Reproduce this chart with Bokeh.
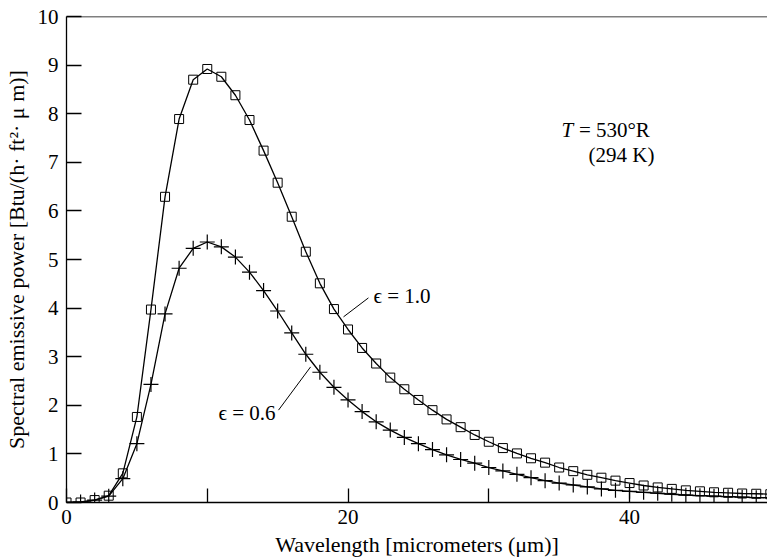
from bokeh.plotting import figure
from bokeh.models import Range1d, FixedTicker, Span
from bokeh.core.properties import value
from bokeh.embed import file_html
from bokeh.resources import INLINE

# ---- data ----
wavelength = list(range(0, 51))
eps10 = [0.0, 0.0, 0.05, 0.14, 0.60, 1.76, 3.97, 6.29, 7.89, 8.70,
         8.92, 8.76, 8.38, 7.87, 7.24, 6.58, 5.88, 5.16, 4.51, 3.98,
         3.56, 3.18, 2.86, 2.57, 2.33, 2.11, 1.90, 1.71, 1.55, 1.39,
         1.25, 1.12, 1.01, 0.91, 0.82, 0.72, 0.645, 0.57, 0.51, 0.45,
         0.40, 0.35, 0.31, 0.28, 0.25, 0.23, 0.21, 0.20, 0.185, 0.18, 0.17]
eps06 = [0.0, 0.01, 0.05, 0.13, 0.49, 1.21, 2.43, 3.88, 4.82, 5.23,
         5.36, 5.26, 5.05, 4.74, 4.36, 3.94, 3.49, 3.05, 2.68, 2.37,
         2.11, 1.87, 1.66, 1.49, 1.34, 1.21, 1.09, 0.98, 0.885, 0.81,
         0.72, 0.65, 0.58, 0.51, 0.45, 0.40, 0.36, 0.32, 0.28, 0.25,
         0.23, 0.21, 0.19, 0.17, 0.15, 0.14, 0.13, 0.12, 0.11, 0.10, 0.10]
x_ticks = [0, 10, 20, 30, 40]
x_tick_labels = {0: "0", 10: "", 20: "20", 30: "", 40: "40"}
y_ticks = list(range(0, 11))

FONT = "Liberation Serif"

p = figure(width=767, height=559, x_range=Range1d(0, 49.8), y_range=Range1d(0, 10),
           output_backend="svg", toolbar_location=None,
           min_border_left=66, min_border_right=0, min_border_top=16, min_border_bottom=57)
p.outline_line_color = None
p.grid.visible = False
p.background_fill_color = "white"

# axes
p.xaxis.ticker = FixedTicker(ticks=x_ticks)
p.xaxis.major_label_overrides = x_tick_labels
p.yaxis.ticker = FixedTicker(ticks=y_ticks)
for ax in (p.xaxis[0], p.yaxis[0]):
    ax.minor_tick_line_color = None
    ax.major_tick_out = 0
    ax.axis_line_width = 1.3
    ax.major_tick_line_width = 1.3
    ax.axis_line_color = "black"
    ax.major_tick_line_color = "black"
    ax.major_label_text_font = FONT
    ax.major_label_text_font_size = "21px"
    ax.major_label_text_color = "black"
    ax.axis_label_text_font = FONT
    ax.axis_label_text_font_size = "22px"
    ax.axis_label_text_font_style = "normal"
    ax.axis_label_text_color = "black"
p.xaxis.major_tick_in = 14
p.yaxis.major_tick_in = 15
p.xaxis.major_label_standoff = 7
p.yaxis.major_label_standoff = 8
p.xaxis.axis_label_standoff = 5
p.yaxis.axis_label_standoff = 6
p.xaxis.axis_label = "Wavelength [micrometers (\u03bcm)]"
p.yaxis.axis_label = "Spectral emissive power [Btu/(h\u00b7 ft\u00b2\u00b7 \u03bc m)]"

# top border line
p.add_layout(Span(location=10, dimension="width", line_color="black", line_width=1.3))

# curves
p.line(wavelength, eps10, line_color="black", line_width=1.3)
p.line(wavelength, eps06, line_color="black", line_width=1.3)
p.scatter(wavelength, eps10, marker="square", size=9, fill_color=None,
          line_color="black", line_width=1)
p.scatter(wavelength[1:], eps06[1:], marker="cross", size=15,
          line_color="black", line_width=1.2)

# annotations
p.segment(x0=[19.68, 15.06], y0=[3.82, 1.90], x1=[21.45, 17.34], y1=[4.21, 2.79],
          line_color="black", line_width=1)
p.text(x=[21.81, 10.80], y=[4.25, 1.84], text=["\u03f5 = 1.0", "\u03f5 = 0.6"],
       text_font=value(FONT), text_font_size="21px", text_align="left",
       text_baseline="middle", text_color="black")
p.text(x=[35.17], y=[7.67], text=["T"], text_font=value(FONT), text_font_size="21px",
       text_font_style="italic", text_align="left", text_baseline="middle", text_color="black")
p.text(x=[36.4, 37.09], y=[7.67, 7.15], text=["= 530\u00b0R", "(294 K)"],
       text_font=value(FONT), text_font_size="21px", text_align="left",
       text_baseline="middle", text_color="black")

open("out.html", "w").write(file_html(p, INLINE))
